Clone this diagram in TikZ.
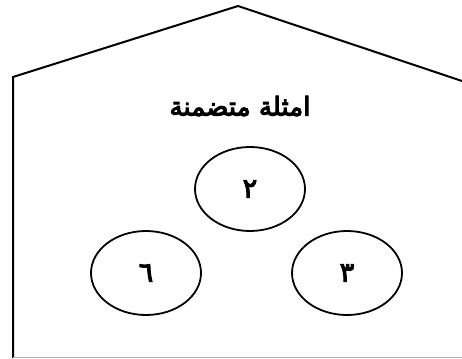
\documentclass[tikz,border=0pt]{standalone}
\usepackage{fontspec}
\TeXXeTstate=1
\newfontfamily\arabicfont[Script=Arabic,FakeBold=4]{DejaVu Sans}
\usetikzlibrary{shapes.geometric}
\begin{document}
\begin{tikzpicture}[x=1pt,y=-1pt,
  wall/.style={line width=2pt, line join=miter},
  oval/.style={ellipse, draw, line width=1.8pt, minimum width=110pt, minimum height=84pt, inner sep=0pt, font=\arabicfont\fontsize{27}{27}\selectfont},
  title/.style={font=\arabicfont\fontsize{26}{28}\selectfont}]
\useasboundingbox (0,0) rectangle (462,358);
\coordinate (bl) at (13,358);
\coordinate (tl) at (13,77);
\coordinate (apex) at (238,6);
\coordinate (tr) at (462,81);
\coordinate (br) at (462,357);
\draw[wall] (bl) -- (tl) -- (apex) -- (tr);
\draw[gray!60, line width=1pt] (13,357) -- (br);
\node[title] (t) at (240,106) {\beginR امثلة متضمنة\endR};
\node[oval] (a) at (250,189) {\beginR ٢\endR};
\node[oval] (b) at (146,273) {\beginR ٦\endR};
\node[oval] (c) at (347,273) {\beginR ٣\endR};
\end{tikzpicture}
\end{document}
